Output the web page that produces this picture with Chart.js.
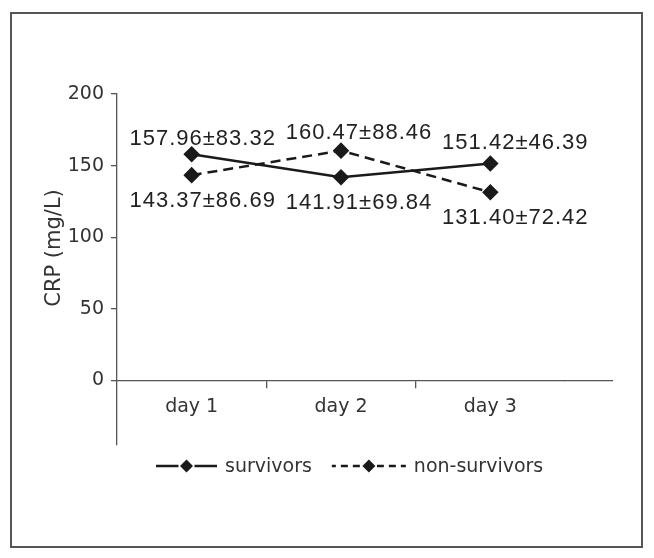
<!DOCTYPE html>
<html>
<head>
<meta charset="utf-8">
<script src="https://cdn.jsdelivr.net/npm/chart.js@4.4.0/dist/chart.umd.min.js"></script>
<style>
  html, body { margin: 0; padding: 0; background: #fff; }
  #wrap { position: relative; width: 654px; height: 558px; }
  #frame { position: absolute; left: 10px; top: 12px; width: 629px; height: 532px; border: 2px solid #555; }
  canvas { position: absolute; left: 0; top: 0; }
</style>
</head>
<body>
<div id="wrap">
  <div id="frame"></div>
  <canvas id="crp-chart" width="654" height="558"></canvas>
</div>
<script>
// data
const days = ["day 1", "day 2", "day 3"];
const survivorsMean = [157.96, 141.91, 151.42];
const survivorsSd = [83.32, 69.84, 46.39];
const nonSurvivorsMean = [143.37, 160.47, 131.40];
const nonSurvivorsSd = [86.69, 88.46, 72.42];
const yTicks = [0, 50, 100, 150, 200];

const ink = "#1a1a1a";
const axisGrey = "#555";

function diamond(c, x, y, r) {
    c.beginPath();
    c.moveTo(x, y - r);
    c.lineTo(x + r, y);
    c.lineTo(x, y + r);
    c.lineTo(x - r, y);
    c.closePath();
    c.fill();
}

// mean±sd text next to every point
const pointLabels = {
    id: "pointLabels",
    afterDatasetsDraw(chart) {
        const c = chart.ctx;
        const sets = chart.data.datasets;
        c.save();
        c.font = '22px "Liberation Sans"';
        c.letterSpacing = "1px";
        c.fillStyle = "#222";
        c.textAlign = "center";
        c.textBaseline = "middle";
        sets.forEach((ds, di) => {
            const other = sets[1 - di];
            chart.getDatasetMeta(di).data.forEach((pt, i) => {
                const above = ds.data[i] >= other.data[i];
                const text = ds.data[i].toFixed(2) + "±" + ds.sd[i].toFixed(2);
                c.fillText(text, pt.x + 11 + 7 * i, pt.y + (above ? -15 - 3 * i : 26));
            });
        });
        c.restore();
    }
};

// x axis line runs on past the last category, y title, legend
const extras = {
    id: "extras",
    afterDraw(chart) {
        const c = chart.ctx;
        const area = chart.chartArea;
        const y0 = chart.scales.y.getPixelForValue(0);
        c.save();
        c.strokeStyle = axisGrey;
        c.lineWidth = 1.3;
        c.beginPath();
        c.moveTo(area.right - 1, y0);
        c.lineTo(area.right + 48, y0);
        c.stroke();

        // y title
        c.save();
        c.translate(area.left - 62, area.top + 154);
        c.rotate(-Math.PI / 2);
        c.font = '21px "DejaVu Sans"';
        c.fillStyle = "#333";
        c.textAlign = "center";
        c.textBaseline = "middle";
        c.fillText("CRP (mg/L)", 0, 0);
        c.restore();

        // legend
        const ly = area.bottom + 21;
        let x = area.left + 39;
        c.font = '19px "DejaVu Sans"';
        c.textAlign = "left";
        c.textBaseline = "middle";
        chart.data.datasets.forEach((ds, di) => {
            const w = di === 0 ? 61 : 74;
            c.strokeStyle = ds.borderColor;
            c.fillStyle = ds.borderColor;
            c.lineWidth = ds.borderWidth;
            c.setLineDash(ds.borderDash ? [7, 5] : []);
            c.lineDashOffset = ds.borderDash ? 3 : 0;
            c.beginPath();
            c.moveTo(x, ly);
            c.lineTo(x + w, ly);
            c.stroke();
            c.setLineDash([]);
            c.fillStyle = "#fff";
            c.fillRect(x + w / 2 - 8, ly - 8, 16, 16);
            c.fillStyle = ds.borderColor;
            diamond(c, x + w / 2, ly, 6.5);
            c.fillStyle = "#333";
            c.fillText(ds.label, x + w + 8, ly + 1);
            x += w + 8 + c.measureText(ds.label).width + 20;
        });
        c.restore();
    }
};

const tickFont = { family: "DejaVu Sans", size: 19 };

new Chart(document.getElementById("crp-chart"), {
    type: "line",
    data: {
        labels: days,
        datasets: [{
            label: "survivors",
            data: survivorsMean,
            sd: survivorsSd,
            borderColor: ink,
            backgroundColor: ink,
            borderWidth: 2.5,
            pointStyle: "rectRot",
            pointRadius: 6.5,
            tension: 0
        }, {
            label: "non-survivors",
            data: nonSurvivorsMean,
            sd: nonSurvivorsSd,
            borderColor: ink,
            backgroundColor: ink,
            borderWidth: 2.5,
            borderDash: [10, 6],
            pointStyle: "rectRot",
            pointRadius: 6.5,
            tension: 0
        }]
    },
    options: {
        responsive: false,
        animation: false,
        layout: { padding: { left: 0, top: 94, right: 89, bottom: 113 } },
        plugins: { legend: { display: false }, tooltip: { enabled: false } },
        scales: {
            x: {
                position: { y: 0 },
                offset: true,
                grid: {
                    offset: true,
                    drawOnChartArea: false,
                    tickLength: 7,
                    lineWidth: 1.3,
                    color: (ctx) => (ctx.index === 1 || ctx.index === 2) ? axisGrey : "rgba(0,0,0,0)"
                },
                border: { color: axisGrey, width: 1.3 },
                ticks: { padding: 8, color: "#333", font: tickFont }
            },
            y: {
                min: -45,
                max: 200,
                afterBuildTicks: (s) => { s.ticks = yTicks.map(v => ({ value: v })); },
                afterFit: (s) => { s.width = 117; },
                grid: { drawOnChartArea: false, tickLength: 6, lineWidth: 1.3, color: axisGrey },
                border: { color: axisGrey, width: 1.3 },
                ticks: { padding: 7, color: "#333", font: tickFont }
            }
        }
    },
    plugins: [pointLabels, extras]
});
</script>
</body>
</html>
